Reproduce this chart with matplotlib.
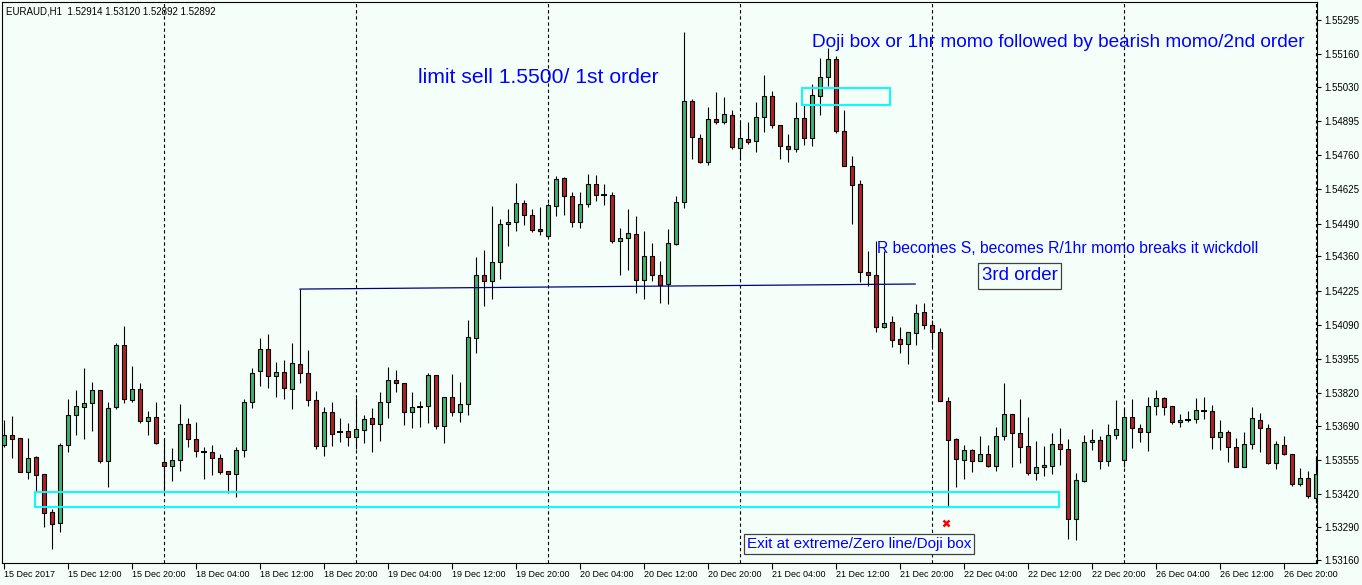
import matplotlib
matplotlib.use("Agg")
import matplotlib.pyplot as plt
from matplotlib.patches import Rectangle

# ---------------- data (EURAUD H1) ----------------
opens = [
    1.53615, 1.53654, 1.53642, 1.53508, 1.53567, 1.53500, 1.53350, 1.53306, 1.53615, 1.53733,
    1.53765, 1.53781, 1.53832, 1.53551, 1.53765, 1.54010, 1.53792, 1.53836, 1.53709, 1.53725,
    1.53547, 1.53531, 1.53555, 1.53698, 1.53638, 1.53587, 1.53587, 1.53563, 1.53512, 1.53500,
    1.53595, 1.53784, 1.53907, 1.53994, 1.53887, 1.53903, 1.53836, 1.53935, 1.53899, 1.53792,
    1.53610, 1.53745, 1.53666, 1.53670, 1.53646, 1.53674, 1.53721, 1.53698, 1.53784, 1.53872,
    1.53860, 1.53745, 1.53765, 1.53769, 1.53891, 1.53690, 1.53804, 1.53745, 1.53777, 1.54038,
    1.54287, 1.54263, 1.54338, 1.54488, 1.54496, 1.54571, 1.54524, 1.54469, 1.54441, 1.54559,
    1.54670, 1.54599, 1.54496, 1.54567, 1.54646, 1.54603, 1.54603, 1.54421, 1.54433, 1.54449,
    1.54267, 1.54362, 1.54287, 1.54251, 1.54409, 1.54575, 1.54975, 1.54828, 1.54733, 1.54904,
    1.54892, 1.54919, 1.54789, 1.54824, 1.54816, 1.54911, 1.54994, 1.54880, 1.54797, 1.54785,
    1.54907, 1.54828, 1.54994, 1.55070, 1.55141, 1.54856, 1.54718, 1.54646, 1.54298, 1.54287,
    1.54081, 1.54101, 1.54034, 1.54014, 1.54057, 1.54140, 1.54089, 1.54061, 1.53788, 1.53638,
    1.53555, 1.53595, 1.53551, 1.53579, 1.53531, 1.53650, 1.53737, 1.53662, 1.53610, 1.53504,
    1.53527, 1.53531, 1.53618, 1.53599, 1.53322, 1.53472, 1.53626, 1.53634, 1.53551, 1.53654,
    1.53555, 1.53725, 1.53682, 1.53666, 1.53769, 1.53800, 1.53769, 1.53705, 1.53713, 1.53717,
    1.53749, 1.53749, 1.53646, 1.53666, 1.53607, 1.53527, 1.53618, 1.53713, 1.53682, 1.53543,
    1.53615, 1.53579, 1.53460, 1.53484, 1.53405]
highs = [
    1.53713, 1.53729, 1.53642, 1.53642, 1.53571, 1.53500, 1.53361, 1.53622, 1.53796, 1.53832,
    1.53919, 1.53864, 1.53832, 1.53784, 1.54018, 1.54085, 1.53927, 1.53860, 1.53749, 1.53784,
    1.53638, 1.53603, 1.53777, 1.53721, 1.53705, 1.53607, 1.53615, 1.53579, 1.53512, 1.53607,
    1.53796, 1.53919, 1.54038, 1.54053, 1.53943, 1.53951, 1.54018, 1.54231, 1.53990, 1.53828,
    1.53765, 1.53784, 1.53721, 1.53701, 1.53800, 1.53733, 1.53761, 1.53824, 1.53923, 1.53911,
    1.53860, 1.53824, 1.53788, 1.53899, 1.53891, 1.53804, 1.53895, 1.53864, 1.54109, 1.54358,
    1.54385, 1.54559, 1.54508, 1.54548, 1.54650, 1.54583, 1.54548, 1.54556, 1.54571, 1.54678,
    1.54674, 1.54615, 1.54615, 1.54686, 1.54682, 1.54646, 1.54615, 1.54472, 1.54548, 1.54520,
    1.54461, 1.54413, 1.54342, 1.54469, 1.54599, 1.55248, 1.54983, 1.54844, 1.54951, 1.55010,
    1.54991, 1.54939, 1.54892, 1.54892, 1.54971, 1.55077, 1.55014, 1.54880, 1.54844, 1.54971,
    1.54959, 1.55042, 1.55145, 1.55184, 1.55153, 1.54939, 1.54757, 1.54662, 1.54381, 1.54421,
    1.54381, 1.54124, 1.54081, 1.54061, 1.54172, 1.54176, 1.54109, 1.54077, 1.53804, 1.53642,
    1.53615, 1.53599, 1.53650, 1.53615, 1.53686, 1.53860, 1.53737, 1.53796, 1.53725, 1.53630,
    1.53610, 1.53662, 1.53682, 1.53638, 1.53504, 1.53654, 1.53678, 1.53650, 1.53698, 1.53792,
    1.53757, 1.53796, 1.53698, 1.53804, 1.53832, 1.53804, 1.53769, 1.53737, 1.53749, 1.53800,
    1.53804, 1.53773, 1.53713, 1.53674, 1.53642, 1.53666, 1.53765, 1.53741, 1.53698, 1.53630,
    1.53650, 1.53579, 1.53524, 1.53512, 1.53563]
lows = [
    1.53607, 1.53563, 1.53508, 1.53480, 1.53429, 1.53290, 1.53203, 1.53270, 1.53587, 1.53654,
    1.53638, 1.53670, 1.53543, 1.53448, 1.53757, 1.53781, 1.53784, 1.53701, 1.53654, 1.53618,
    1.53425, 1.53472, 1.53512, 1.53607, 1.53567, 1.53480, 1.53496, 1.53500, 1.53425, 1.53409,
    1.53567, 1.53761, 1.53848, 1.53840, 1.53804, 1.53796, 1.53757, 1.53860, 1.53769, 1.53599,
    1.53571, 1.53610, 1.53626, 1.53610, 1.53599, 1.53622, 1.53587, 1.53630, 1.53721, 1.53824,
    1.53694, 1.53682, 1.53686, 1.53701, 1.53678, 1.53622, 1.53729, 1.53705, 1.53733, 1.53978,
    1.54164, 1.54192, 1.54271, 1.54401, 1.54461, 1.54484, 1.54457, 1.54445, 1.54433, 1.54520,
    1.54524, 1.54476, 1.54472, 1.54556, 1.54579, 1.54563, 1.54413, 1.54287, 1.54306, 1.54215,
    1.54192, 1.54263, 1.54176, 1.54172, 1.54405, 1.54552, 1.54745, 1.54730, 1.54722, 1.54884,
    1.54884, 1.54785, 1.54741, 1.54805, 1.54773, 1.54852, 1.54868, 1.54745, 1.54733, 1.54773,
    1.54801, 1.54797, 1.54919, 1.55034, 1.54848, 1.54718, 1.54488, 1.54259, 1.54243, 1.54061,
    1.54077, 1.54002, 1.53978, 1.53935, 1.54010, 1.54073, 1.54002, 1.53788, 1.53369, 1.53448,
    1.53480, 1.53508, 1.53551, 1.53527, 1.53512, 1.53634, 1.53527, 1.53543, 1.53496, 1.53476,
    1.53492, 1.53500, 1.53535, 1.53243, 1.53239, 1.53468, 1.53595, 1.53520, 1.53531, 1.53638,
    1.53527, 1.53603, 1.53626, 1.53591, 1.53733, 1.53733, 1.53698, 1.53686, 1.53705, 1.53701,
    1.53717, 1.53599, 1.53595, 1.53547, 1.53527, 1.53527, 1.53599, 1.53587, 1.53539, 1.53520,
    1.53575, 1.53452, 1.53452, 1.53405, 1.53385]
closes = [
    1.53654, 1.53638, 1.53508, 1.53563, 1.53496, 1.53346, 1.53302, 1.53615, 1.53733, 1.53769,
    1.53781, 1.53832, 1.53551, 1.53761, 1.54010, 1.53796, 1.53836, 1.53709, 1.53725, 1.53622,
    1.53531, 1.53555, 1.53698, 1.53638, 1.53591, 1.53587, 1.53563, 1.53508, 1.53500, 1.53595,
    1.53784, 1.53899, 1.53994, 1.53887, 1.53903, 1.53840, 1.53939, 1.53899, 1.53792, 1.53610,
    1.53745, 1.53658, 1.53666, 1.53646, 1.53678, 1.53717, 1.53698, 1.53784, 1.53872, 1.53860,
    1.53745, 1.53765, 1.53765, 1.53891, 1.53690, 1.53804, 1.53745, 1.53777, 1.54042, 1.54287,
    1.54263, 1.54338, 1.54488, 1.54496, 1.54571, 1.54524, 1.54465, 1.54461, 1.54563, 1.54666,
    1.54599, 1.54496, 1.54567, 1.54646, 1.54603, 1.54603, 1.54421, 1.54433, 1.54453, 1.54267,
    1.54362, 1.54287, 1.54247, 1.54413, 1.54575, 1.54975, 1.54832, 1.54733, 1.54904, 1.54892,
    1.54923, 1.54793, 1.54828, 1.54812, 1.54911, 1.54994, 1.54880, 1.54797, 1.54785, 1.54907,
    1.54828, 1.54998, 1.55070, 1.55141, 1.54856, 1.54718, 1.54642, 1.54298, 1.54287, 1.54081,
    1.54097, 1.54030, 1.54014, 1.54061, 1.54136, 1.54089, 1.54061, 1.53788, 1.53634, 1.53559,
    1.53595, 1.53551, 1.53579, 1.53531, 1.53650, 1.53737, 1.53662, 1.53607, 1.53504, 1.53527,
    1.53535, 1.53618, 1.53599, 1.53322, 1.53476, 1.53626, 1.53634, 1.53551, 1.53654, 1.53678,
    1.53725, 1.53682, 1.53666, 1.53769, 1.53800, 1.53765, 1.53705, 1.53713, 1.53713, 1.53753,
    1.53749, 1.53646, 1.53666, 1.53607, 1.53527, 1.53618, 1.53721, 1.53682, 1.53543, 1.53618,
    1.53579, 1.53460, 1.53484, 1.53413, 1.53500]

tick_bars = [0, 8, 16, 24, 32, 40, 48, 56, 64, 72, 80, 88, 96, 104, 112,
             120, 128, 136, 144, 152, 160]
tick_labels = ["15 Dec 2017", "15 Dec 12:00", "15 Dec 20:00", "18 Dec 04:00",
               "18 Dec 12:00", "18 Dec 20:00", "19 Dec 04:00", "19 Dec 12:00",
               "19 Dec 20:00", "20 Dec 04:00", "20 Dec 12:00", "20 Dec 20:00",
               "21 Dec 04:00", "21 Dec 12:00", "21 Dec 20:00", "22 Dec 04:00",
               "22 Dec 12:00", "22 Dec 20:00", "26 Dec 04:00", "26 Dec 12:00",
               "26 Dec 20:00"]
day_separators = [20, 44, 68, 92, 116, 140, 164]
price_ticks = [1.55295, 1.55160, 1.55030, 1.54895, 1.54760, 1.54625, 1.54490,
               1.54360, 1.54225, 1.54090, 1.53955, 1.53820, 1.53690, 1.53555,
               1.53420, 1.53290, 1.53160]

# ---------------- styling ----------------
W, H = 1362, 585
BG = "#F5FFFA"
GREEN = "#3CB371"
RED = "#B22222"
BLUE = "#0000FF"
AQUA = "#00FFFF"
NAVY = "#000080"
FONT = "Liberation Sans"

fig = plt.figure(figsize=(W / 100, H / 100), dpi=100, facecolor=BG)
ax = fig.add_axes([2 / W, 22 / H, 1315 / W, 561 / H])
ax.set_facecolor(BG)
ax.set_xlim(-0.25, 164.125)
ax.set_ylim(1.53148, 1.55366)

# period separators
for s in day_separators:
    ax.axvline(s, color="black", lw=0.8, ls=(0, (3, 2.5)), zorder=1)

# candles
idx = list(range(len(opens)))
ax.vlines(idx, lows, highs, color="black", lw=0.8, zorder=2)
bottoms, heights, colors = [], [], []
doji_x, doji_y = [], []
for i, (o, c) in enumerate(zip(opens, closes)):
    if c == o:
        doji_x.append(i)
        doji_y.append(o)
    bottoms.append(min(o, c))
    heights.append(abs(c - o))
    colors.append(GREEN if c > o else RED)
ax.bar(idx, heights, bottom=bottoms, width=0.56, color=colors,
       edgecolor="black", linewidth=0.8, zorder=3)
ax.hlines(doji_y, [x - 0.32 for x in doji_x], [x + 0.32 for x in doji_x],
          color="black", lw=1.4, zorder=4)

# trend line (R becomes S)
ax.plot([37, 113.9], [1.54231, 1.54251], color=NAVY, lw=0.9, zorder=5)

# cyan boxes
ax.add_patch(Rectangle((3.9, 1.53368), 128.0, 1.53429 - 1.53368, fill=False,
                       edgecolor=AQUA, lw=1.4, zorder=6))
ax.add_patch(Rectangle((99.8, 1.54959), 10.95, 1.55027 - 1.54959, fill=False,
                       edgecolor=AQUA, lw=1.4, zorder=6))

# annotations
ax.text(51.75, 1.55046, "limit sell 1.5500/ 1st order", color=BLUE,
        fontsize=15.2, family=FONT, ha="left", va="baseline", zorder=7)
ax.text(101.0, 1.55188, "Doji box or 1hr momo followed by bearish momo/2nd order",
        color=BLUE, fontsize=13.7, family=FONT, ha="left", va="baseline", zorder=7)
ax.text(109.1, 1.54374, "R becomes S, becomes R/1hr momo breaks it wickdoll",
        color=BLUE, fontsize=11.3, family=FONT, ha="left", va="baseline", zorder=7)

ax.add_patch(Rectangle((121.75, 1.54231), 10.375, 1.54334 - 1.54231,
                       facecolor=BG, edgecolor="#404040", lw=0.9, zorder=7))
ax.text(126.94, 1.54283, "3rd order", color=BLUE, fontsize=13.5, family=FONT,
        ha="center", va="center", zorder=8)

ax.add_patch(Rectangle((92.5, 1.53184), 28.75, 1.53263 - 1.53184,
                       facecolor=BG, edgecolor="#404040", lw=0.9, zorder=7))
ax.text(106.9, 1.53222, "Exit at extreme/Zero line/Doji box", color=BLUE,
        fontsize=11, family=FONT, ha="center", va="center", zorder=8)

ax.plot([117.75], [1.53306], marker="x", color="red", markersize=5,
        mew=1.8, zorder=8)

fig.text(6 / W, 1 - 15 / H, "EURAUD,H1  1.52914 1.53120 1.52892 1.52892",
         fontsize=7, family=FONT, color="black", ha="left", va="baseline")

# axes / ticks
for sp in ax.spines.values():
    sp.set_color("black")
    sp.set_linewidth(0.8)
ax.set_xticks(tick_bars)
ax.set_xticklabels(tick_labels, ha="left", fontsize=6.5, family=FONT)
ax.tick_params(axis="x", direction="out", length=4, width=0.8, pad=1,
               colors="black")
ax.yaxis.tick_right()
ax.set_yticks(price_ticks)
ax.set_yticklabels([f"{v:.5f}" for v in price_ticks], fontsize=7, family=FONT)
ax.tick_params(axis="y", direction="out", length=3, width=0.8, pad=2,
               colors="black")

fig.savefig("out.png", dpi=100, facecolor=BG)
